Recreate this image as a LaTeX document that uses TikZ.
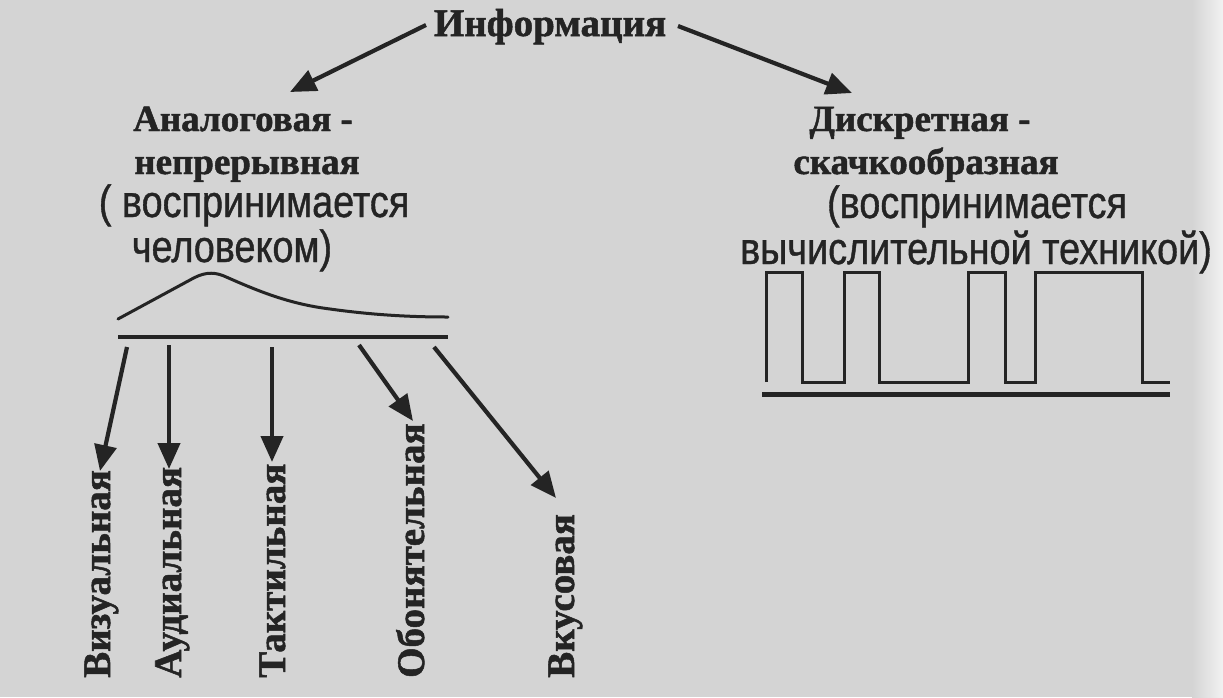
\documentclass[tikz,border=0pt]{standalone}
\usepackage{fontspec}
\setmainfont{Liberation Serif}
\newfontfamily\heavyserif{Liberation Serif}[BoldFeatures={FakeBold=1.3}]
\newfontfamily\narrowsans{Liberation Sans}[FakeStretch=0.84, FakeBold=0.9]
\usetikzlibrary{arrows.meta}
\definecolor{bg}{RGB}{212,212,212}
\definecolor{ink}{RGB}{36,36,36}
\tikzset{
  serifb/.style={inner sep=0pt, anchor=base, text=ink, font=\heavyserif\bfseries\fontsize{37}{40}\selectfont},
  infob/.style={inner sep=0pt, anchor=base, text=ink, font=\heavyserif\bfseries\fontsize{39}{40}\selectfont},
  sansl/.style={inner sep=0pt, anchor=base, text=ink, font=\narrowsans\fontsize{45}{50}\selectfont},
  vlbl/.style={inner sep=0pt, anchor=base west, rotate=90, text=ink, font=\heavyserif\bfseries\fontsize{39}{42}\selectfont},
  arr/.style={draw=ink, line width=4.2pt, -{Triangle[length=26pt,width=22pt]}},
  wave/.style={draw=ink, line width=3pt, line join=miter},
  axis/.style={draw=ink, line width=3.5pt}
}
\begin{document}
\begin{tikzpicture}[x=1pt,y=-1pt]
\fill[bg] (0,0) rectangle (1223,697);
\shade[left color=bg, right color=white!70!bg] (1192,0) rectangle (1223,697);
\useasboundingbox (0,0) rectangle (1223,697);

% title
\node[infob] (info) at (550,36) {Информация};

% left block
\node[serifb] (an1) at (243,131) {Аналоговая -};
\node[serifb] (an2) at (247,174) {непрерывная};
\node[sansl] (an3) at (254,217) {( воспринимается};
\node[sansl] (an4) at (232,262) {человеком)};

% right block
\node[serifb] (di1) at (920,131) {Дискретная -};
\node[serifb] (di2) at (926,174) {скачкообразная};
\node[sansl] (di3) at (977,218) {(воспринимается};
\node[sansl] (di4) at (976,264) {вычислительной техникой)};

% top arrows
\coordinate (iL) at (426,25);
\coordinate (iLt) at (290,92);
\coordinate (iR) at (678,26);
\coordinate (iRt) at (852,93);
\draw[arr] (iL) -- (iLt);
\draw[arr] (iR) -- (iRt);

% analog signal
\draw[wave, line cap=round] (118,319) -- (190,280) .. controls (202,273) and (212,271) .. (224,276)
   .. controls (260,292) and (290,304) .. (330,309) .. controls (380,316) and (420,317) .. (448,317);
\draw[axis] (118,337) -- (448,337);

% discrete signal
\draw[wave] (766,382) -- (766,272) -- (802,272) -- (802,382) -- (844,382) -- (844,272)
  -- (879,272) -- (879,382) -- (968,382) -- (968,272) -- (1005,272) -- (1005,382)
  -- (1035,382) -- (1035,272) -- (1142,272) -- (1142,382) -- (1170,382);
\draw[axis, line width=5pt] (762,394) -- (1170,394);

% vertical labels
\node[vlbl] (vis) at (110,678) {Визуальная};
\node[vlbl] (aud) at (181,678) {Аудиальная};
\node[vlbl] (tak) at (285,678) {Тактильная};
\node[vlbl] (obo) at (424,678) {Обонятельная};
\node[vlbl] (vku) at (574,678) {Вкусовая};

% arrows from analog axis
\coordinate (s1) at (127,347);
\coordinate (s2) at (169,345);
\coordinate (s3) at (272,347);
\coordinate (s4) at (359,345);
\coordinate (s5) at (434,347);
\draw[arr] (s1) -- (100,471);
\draw[arr] (s2) -- (169,469);
\draw[arr] (s3) -- (272,462);
\draw[arr] (s4) -- (413,421);
\draw[arr] (s5) -- (556,498);
\end{tikzpicture}
\end{document}
